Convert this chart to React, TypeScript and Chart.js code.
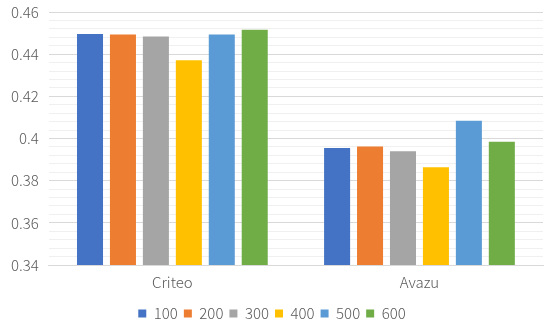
import React, { useEffect, useRef } from "react";
import { Chart, registerables } from "chart.js";

Chart.register(...registerables);

const categories = ["Criteo", "Avazu"];
const seriesNames = ["100", "200", "300", "400", "500", "600"];
const s100 = [0.4496, 0.3955];
const s200 = [0.4493, 0.3962];
const s300 = [0.4484, 0.3939];
const s400 = [0.4371, 0.3864];
const s500 = [0.4493, 0.4084];
const s600 = [0.4516, 0.3985];
const colors = ["#4472C4", "#ED7D31", "#A5A5A5", "#FFC000", "#5B9BD5", "#70AD47"];
const yMin = 0.34;
const yMax = 0.46;
const minorStep = 0.004;

export default function App() {
  const ref = useRef<HTMLCanvasElement | null>(null);
  useEffect(() => {
    if (!ref.current) return;
    const values = [s100, s200, s300, s400, s500, s600];
    const font = { family: "'Noto Sans CJK SC', 'Noto Sans', sans-serif", size: 15, weight: "300" };
    const chart = new Chart(ref.current, {
      type: "bar",
      data: {
        labels: categories,
        datasets: seriesNames.map((n, i) => ({
          label: n,
          data: values[i],
          backgroundColor: colors[i],
          borderWidth: 0,
          categoryPercentage: 0.8,
          barPercentage: 0.79,
        })),
      },
      options: {
        animation: false,
        responsive: false,
        maintainAspectRatio: false,
        layout: { padding: { left: 1, right: 7, top: 12, bottom: -6 } },
        plugins: {
          legend: {
            position: "bottom",
            title: { display: true, text: "", font: { size: 1, lineHeight: 1 }, padding: { top: 7, bottom: 0 } },
            labels: {
              boxWidth: 8,
              boxHeight: 8,
              padding: 6,
              color: "#595959",
              font,
            },
          },
          tooltip: { enabled: false },
        },
        scales: {
          x: {
            grid: { display: false },
            border: { display: true, color: "#d9d9d9" },
            ticks: { color: "#595959", font: { ...font, lineHeight: 1.0 }, padding: 2 },
          },
          y: {
            min: yMin,
            max: yMax,
            afterFit: (scale: any) => {
              scale.paddingTop = 0;
            },
            afterBuildTicks: (axis: any) => {
              const t = [];
              const n = Math.round((yMax - yMin) / minorStep);
              for (let i = 0; i <= n; i++) t.push({ value: +(yMin + i * minorStep).toFixed(4) });
              axis.ticks = t;
            },
            border: { display: false },
            grid: {
              drawTicks: false,
              color: (ctx: any) => {
                const v = ctx.tick ? ctx.tick.value : 0;
                const k = Math.round((v - yMin) / minorStep);
                return k % 5 === 0 ? "#d9d9d9" : "#f0f0f0";
              },
            },
            ticks: {
              autoSkip: false,
              color: "#595959",
              font,
              padding: 10,
              callback: (v: any) => {
                const k = Math.round((Number(v) - yMin) / minorStep);
                return k % 5 === 0 ? String(Number(Number(v).toFixed(3))) : "";
              },
            },
          },
        },
      },
    } as any);
    return () => chart.destroy();
  }, []);
  return (
    <div style={{ position: "fixed", left: 0, top: 0, width: 550, height: 325, background: "#fff" }}>
      <canvas ref={ref} width={550} height={325} style={{ width: 550, height: 325 }} />
    </div>
  );
}
